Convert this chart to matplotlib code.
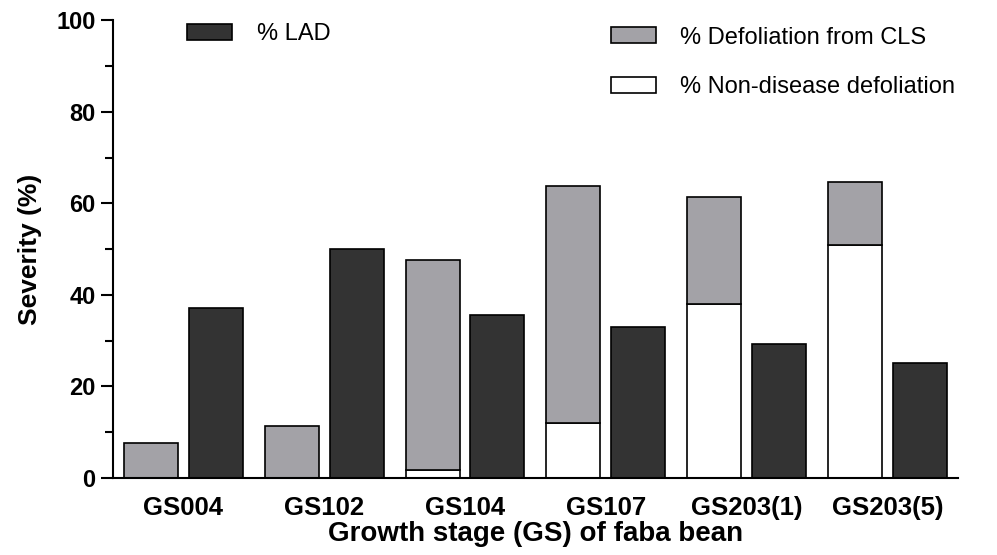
import numpy as np
import matplotlib.pyplot as plt
from matplotlib.patches import Patch
from matplotlib.ticker import MultipleLocator

# growth stages and severity values (%)
stages = ['GS004', 'GS102', 'GS104', 'GS107', 'GS203(1)', 'GS203(5)']
non_disease = [0.0, 0.0, 1.7, 12.1, 37.9, 50.8]
cls_defol = [7.6, 11.3, 45.9, 51.7, 23.4, 13.8]
lad = [37.1, 50.0, 35.5, 33.0, 29.3, 25.2]

plt.rcParams['font.family'] = ['Liberation Sans', 'DejaVu Sans']

fig = plt.figure(figsize=(9.97, 5.55), dpi=100)
ax = fig.add_axes([0.1133, 0.1387, 0.8475, 0.825])

x = np.arange(len(stages))
w = 0.383
off = 0.23
ec = 'black'
lw = 1.2

# stacked defoliation bars: non-disease at bottom, CLS on top
ax.bar(x - off, non_disease, w, color='white', edgecolor=ec, linewidth=lw)
ax.bar(x - off, cls_defol, w, bottom=non_disease, color='#a3a2a7', edgecolor=ec, linewidth=lw)
# LAD bars
ax.bar(x + off, lad, w, color='#333333', edgecolor=ec, linewidth=lw)

ax.set_xlim(-0.5, 5.5)
ax.set_ylim(0, 100)
ax.set_xticks(x)
ax.set_xticklabels(stages, fontsize=18.5, fontweight='bold')
ax.tick_params(axis='x', length=0, pad=13)
ax.yaxis.set_major_locator(MultipleLocator(20))
ax.yaxis.set_minor_locator(MultipleLocator(10))
ax.tick_params(axis='y', which='major', length=9, width=1.5, labelsize=17, direction='out')
ax.tick_params(axis='y', which='minor', length=6, width=1.5, direction='out')
for t in ax.get_yticklabels():
    t.set_fontweight('bold')

ax.spines['top'].set_visible(False)
ax.spines['right'].set_visible(False)
ax.spines['left'].set_linewidth(1.5)
ax.spines['bottom'].set_linewidth(1.5)

ax.set_ylabel('Severity (%)', fontsize=19, fontweight='bold', labelpad=10)
ax.set_xlabel('Growth stage (GS) of faba bean', fontsize=20, fontweight='bold', labelpad=1)

# legends
h_lad = [Patch(facecolor='#333333', edgecolor=ec, linewidth=lw, label='% LAD')]
h_def = [Patch(facecolor='#a3a2a7', edgecolor=ec, linewidth=lw, label='% Defoliation from CLS'),
         Patch(facecolor='white', edgecolor=ec, linewidth=lw, label='% Non-disease defoliation')]
leg_kw = dict(frameon=False, fontsize=17, handlelength=1.9, handleheight=0.68,
              handletextpad=1.05, borderaxespad=0, borderpad=0)
leg1 = ax.legend(handles=h_lad, loc='upper left', bbox_to_anchor=(0.088, 0.994), **leg_kw)
ax.add_artist(leg1)
ax.legend(handles=h_def, loc='upper left', bbox_to_anchor=(0.589, 0.986), labelspacing=1.16, **leg_kw)

fig.savefig('out.png', dpi=100)
